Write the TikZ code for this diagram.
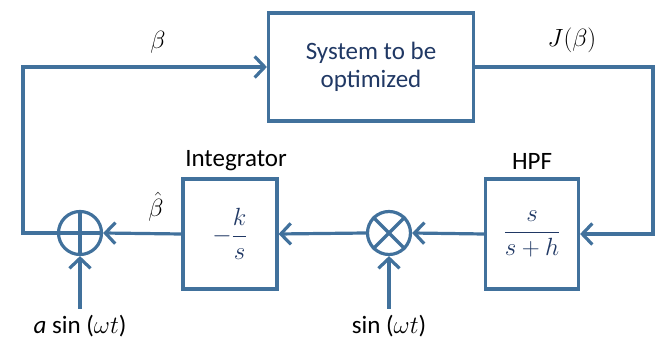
\documentclass[tikz,border=0pt]{standalone}
\usepackage{fontspec}
\setmainfont{Carlito}
\usetikzlibrary{arrows.meta}
\definecolor{lineblue}{HTML}{41719C}
\definecolor{textblue}{HTML}{203864}
\begin{document}
\begin{tikzpicture}[x=1pt,y=-1pt,
  wire/.style={draw=lineblue,line width=3.2pt},
  arr/.style={wire,-{Straight Barb[length=10pt,width=21pt,line width=3.2pt]}},
  blockbox/.style={wire,rectangle,inner sep=0pt,text=textblue},
  junction/.style={wire,circle,minimum size=43pt,inner sep=0pt},
  lbl/.style={font=\fontsize{25}{29}\selectfont,text=black,inner sep=0pt},
  mlbl/.style={font=\fontsize{28}{32}\selectfont,text=black,inner sep=0pt}
]
\useasboundingbox (0,0) rectangle (665,344);
% blocks
\node[blockbox,minimum width=205pt,minimum height=108pt,align=center,
      font=\fontsize{25}{28}\selectfont] (sys) at (371,67) {System to be\\optimized};
\node[blockbox,minimum width=94pt,minimum height=110pt,
      font=\fontsize{26}{28}\selectfont] (integ) at (230,234) {$\displaystyle -\frac{k}{s}$};
\node[blockbox,minimum width=93pt,minimum height=110pt,
      font=\fontsize{26}{28}\selectfont] (hpf) at (532,234) {$\displaystyle\frac{s}{s+h}$};
\node[junction] (sum) at (80,233) {};
\node[junction] (mult) at (389,233) {};
\draw[wire] (sum.north) -- (sum.south) (sum.west) -- (sum.east);
\draw[wire] (mult.north west) -- (mult.south east) (mult.north east) -- (mult.south west);
% labels
\node[lbl] (lint) at (236,161) {Integrator};
\node[lbl] (lhpf) at (532,161) {HPF};
\node[mlbl] (lbeta) at (158,42) {$\beta$};
\node[mlbl] (lj) at (572,40) {$J(\beta)$};
\node[mlbl] (lbh) at (156,207) {$\hat{\beta}$};
\node[lbl] (lin1) at (80,326) {\textit{a} sin ($\omega t$)};
\node[lbl] (lin2) at (389,326) {sin ($\omega t$)};
% connectors
\coordinate (cR) at (653,234);
\coordinate (cL) at (23,233);
\coordinate (s1) at (80,309);
\coordinate (s2) at (389,309);
\draw[arr] (sys.east) -| (cR) -- (hpf.east);
\draw[arr] (hpf.west) -- (mult.east);
\draw[arr] (mult.west) -- (integ.east);
\draw[arr] (integ.west) -- (sum.east);
\draw[arr] (sum.west) -- (cL) |- (sys.west);
\draw[arr] (s1) -- (sum.south);
\draw[arr] (s2) -- (mult.south);
\end{tikzpicture}
\end{document}
